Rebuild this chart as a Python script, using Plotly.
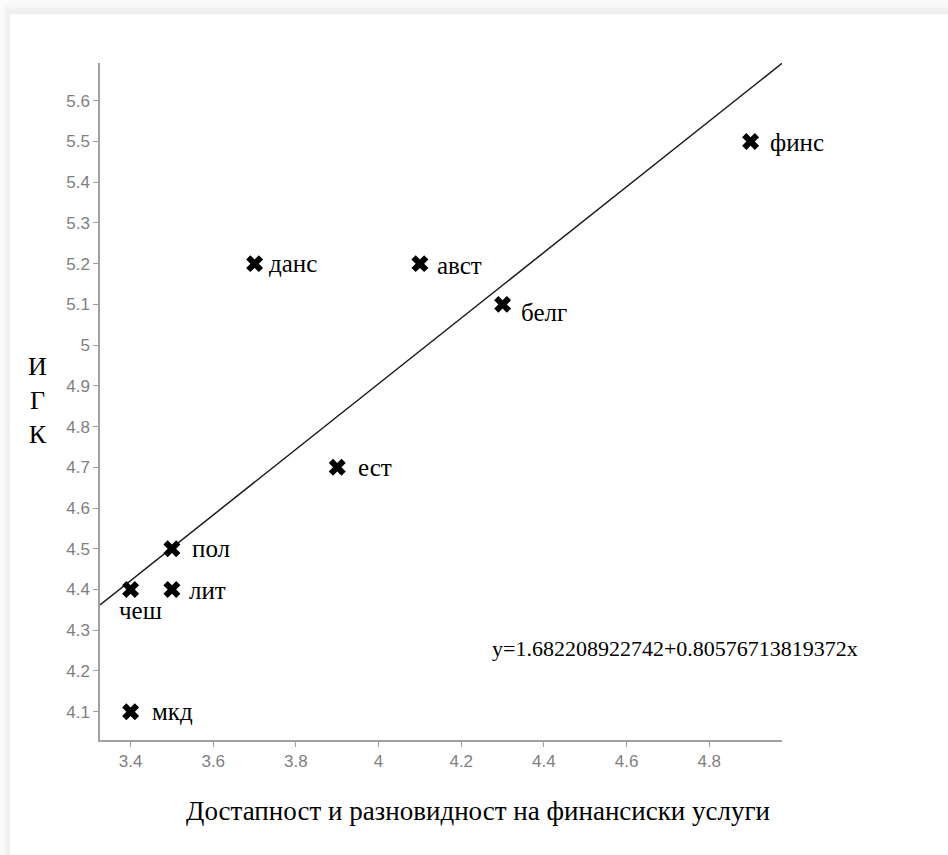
import plotly.graph_objects as go

# ---- data ----
countries = ["данс", "авст", "белг", "ест", "финс", "пол", "лит", "чеш", "мкд"]
x_vals = [3.7, 4.1, 4.3, 3.9, 4.9, 3.5, 3.5, 3.4, 3.4]
y_vals = [5.2, 5.2, 5.1, 4.7, 5.5, 4.5, 4.4, 4.4, 4.1]
intercept = 1.682208922742
slope = 0.80576713819372
x_ticks = [3.4, 3.6, 3.8, 4.0, 4.2, 4.4, 4.6, 4.8]
x_tick_text = ["3.4", "3.6", "3.8", "4", "4.2", "4.4", "4.6", "4.8"]
y_ticks = [4.1, 4.2, 4.3, 4.4, 4.5, 4.6, 4.7, 4.8, 4.9, 5.0, 5.1, 5.2, 5.3, 5.4, 5.5, 5.6]
y_tick_text = ["4.1", "4.2", "4.3", "4.4", "4.5", "4.6", "4.7", "4.8", "4.9", "5",
               "5.1", "5.2", "5.3", "5.4", "5.5", "5.6"]
x_title = "Достапност и разновидност на финансиски услуги"
y_title = "И<br>Г<br>К"
equation = "y=1.682208922742+0.80576713819372x"

# ---- styling ----
X_RANGE = [3.326, 4.976]
Y_RANGE = [4.0305, 5.6926]
label_offsets = {  # (xshift, yshift, xanchor)
    "данс": (12, 0, "left"), "авст": (15, -2, "left"), "белг": (16, -8, "left"),
    "ест": (19, 0, "left"), "финс": (17, -1, "left"), "пол": (18, 0, "left"),
    "лит": (15, -1, "left"), "чеш": (10, -21, "center"), "мкд": (19, 0, "left"),
}
SERIF = "Liberation Serif, Times New Roman, serif"
SANS = "Liberation Sans, Arial, sans-serif"

fig = go.Figure()

# regression line across the full x range
lx = [X_RANGE[0], X_RANGE[1]]
ly = [intercept + slope * v for v in lx]
fig.add_trace(go.Scatter(x=lx, y=ly, mode="lines",
                         line=dict(color="#1a1a1a", width=1.5),
                         hoverinfo="skip", showlegend=False, cliponaxis=True))

fig.add_trace(go.Scatter(x=x_vals, y=y_vals, mode="markers",
                         marker=dict(symbol="x", size=15, color="black",
                                     line=dict(width=0)),
                         text=countries, showlegend=False))

annotations = []
for c, xv, yv in zip(countries, x_vals, y_vals):
    xs, ys, xa = label_offsets[c]
    annotations.append(dict(x=xv, y=yv, xref="x", yref="y", text=c, showarrow=False,
                            xanchor=xa, yanchor="middle", xshift=xs, yshift=ys,
                            font=dict(family=SERIF, size=25, color="black")))

annotations.append(dict(x=4.27, y=4.256, xref="x", yref="y", text=equation,
                        showarrow=False, xanchor="left", yanchor="middle",
                        font=dict(family=SERIF, size=22, color="black")))

# axis titles
annotations.append(dict(x=0.554, y=-0.105, xref="paper", yref="paper", text=x_title,
                        showarrow=False, xanchor="center", yanchor="middle",
                        font=dict(family=SERIF, size=27, color="black")))
annotations.append(dict(x=-0.092, y=0.502, xref="paper", yref="paper", text=y_title,
                        showarrow=False, xanchor="center", yanchor="middle",
                        font=dict(family=SERIF, size=26, color="black")))

# light shadow frame at top and left (screenshot look)
PW, PH, ML, MT = 682, 677, 100, 63
shapes = []
for i, col in enumerate(["#eeeeee", "#f2f2f2", "#f6f6f6", "#fafafa"]):
    t = 14 - i * 3
    shapes.append(dict(type="rect", xref="paper", yref="paper",
                       x0=-ML / PW, x1=(948 - ML) / PW,
                       y0=1 + (MT - t) / PH, y1=1 + MT / PH,
                       fillcolor=col, line=dict(width=0), layer="below"))
    w = 10 - i * 2
    shapes.append(dict(type="rect", xref="paper", yref="paper",
                       x0=-ML / PW, x1=(-ML + w) / PW,
                       y0=-(855 - 740) / PH, y1=1 + MT / PH,
                       fillcolor=col, line=dict(width=0), layer="below"))

fig.update_layout(
    width=948, height=855,
    margin=dict(l=100, r=166, t=63, b=115),
    paper_bgcolor="white", plot_bgcolor="white",
    showlegend=False,
    annotations=annotations,
    shapes=shapes,
    xaxis=dict(range=X_RANGE, tickvals=x_ticks, ticktext=x_tick_text,
               showgrid=False, zeroline=False, showline=True, linecolor="#a0a0a0",
               linewidth=1.5, ticks="outside", ticklen=5, tickcolor="#a0a0a0",
               tickfont=dict(family=SANS, size=17, color="#808080")),
    yaxis=dict(range=Y_RANGE, tickvals=y_ticks, ticktext=y_tick_text,
               showgrid=False, zeroline=False, showline=True, linecolor="#a0a0a0",
               linewidth=1.5, ticks="outside", ticklen=5, tickcolor="#a0a0a0",
               tickfont=dict(family=SANS, size=17, color="#808080")),
)

fig.write_html("out.html", config={"displayModeBar": False},
               post_script="document.body.style.margin='0';")
